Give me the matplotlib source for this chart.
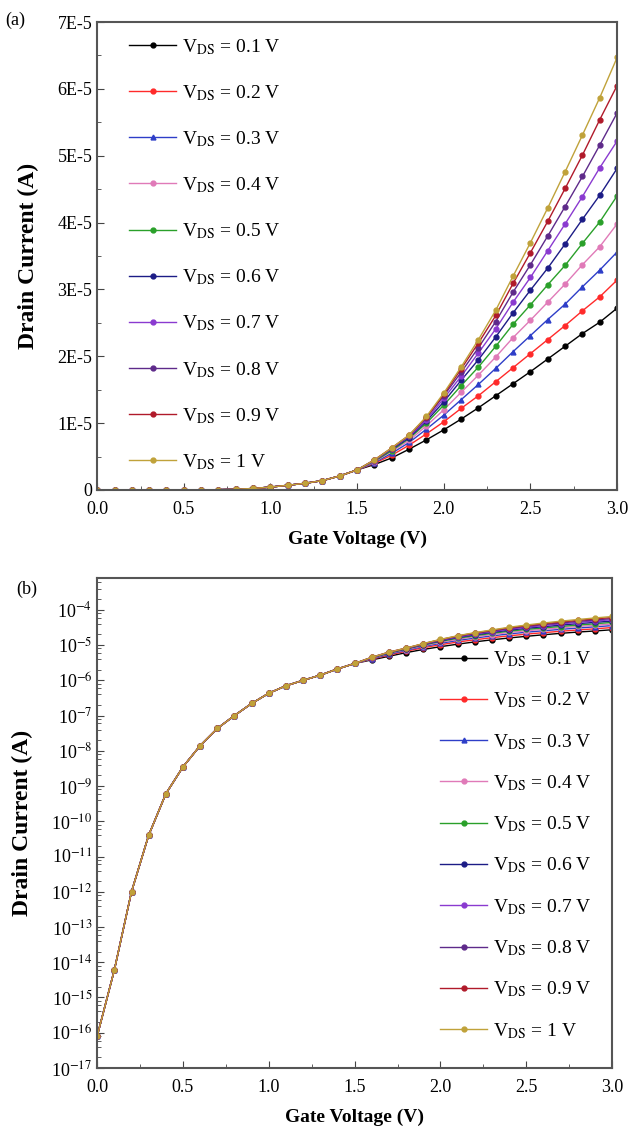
import numpy as np
import matplotlib
matplotlib.use("Agg")
import matplotlib.pyplot as plt
from matplotlib.ticker import FixedLocator, FixedFormatter, LogLocator, NullFormatter, MultipleLocator

plt.rcParams["font.family"] = ["Liberation Serif", "DejaVu Serif"]
plt.rcParams["mathtext.fontset"] = "stix"

# gate sweep (V)
vg = [0.0, 0.1, 0.2, 0.3, 0.4, 0.5, 0.6, 0.7, 0.8, 0.9, 1.0,
      1.1, 1.2, 1.3, 1.4, 1.5, 1.6, 1.7, 1.8, 1.9, 2.0,
      2.1, 2.2, 2.3, 2.4, 2.5, 2.6, 2.7, 2.8, 2.9, 3.0]

# subthreshold part, same for every drain bias (A), Vg = 0.0 ... 1.5
low_current = [8e-17, 6e-15, 1e-12, 4e-11, 6e-10, 3.5e-9, 1.4e-8, 4.3e-8,
               1e-7, 2.2e-7, 4.3e-7, 7e-7, 1.0e-6, 1.4e-6, 2.1e-6, 3.0e-6]

# above threshold, Vg = 1.6 ... 3.0, in units of 1e-5 A
vds_labels = ["0.1", "0.2", "0.3", "0.4", "0.5", "0.6", "0.7", "0.8", "0.9", "1"]
i_01 = [0.38, 0.48, 0.61, 0.75, 0.90, 1.06, 1.23, 1.41, 1.59, 1.77, 1.96, 2.15, 2.34, 2.51, 2.72]
i_02 = [0.40, 0.52, 0.67, 0.84, 1.02, 1.22, 1.41, 1.62, 1.83, 2.04, 2.25, 2.46, 2.68, 2.89, 3.14]
i_03 = [0.41, 0.55, 0.71, 0.91, 1.12, 1.35, 1.58, 1.82, 2.07, 2.31, 2.55, 2.78, 3.04, 3.29, 3.56]
i_04 = [0.42, 0.58, 0.74, 0.96, 1.20, 1.46, 1.72, 1.99, 2.28, 2.54, 2.81, 3.08, 3.37, 3.64, 3.98]
i_05 = [0.43, 0.59, 0.77, 1.00, 1.27, 1.56, 1.84, 2.15, 2.48, 2.77, 3.07, 3.36, 3.69, 4.01, 4.40]
i_06 = [0.44, 0.61, 0.78, 1.03, 1.32, 1.64, 1.95, 2.29, 2.65, 2.99, 3.32, 3.68, 4.05, 4.41, 4.81]
i_07 = [0.44, 0.62, 0.80, 1.05, 1.37, 1.70, 2.05, 2.41, 2.81, 3.18, 3.58, 3.98, 4.39, 4.82, 5.22]
i_08 = [0.45, 0.62, 0.81, 1.08, 1.41, 1.76, 2.13, 2.52, 2.96, 3.37, 3.80, 4.24, 4.69, 5.16, 5.64]
i_09 = [0.45, 0.63, 0.82, 1.09, 1.43, 1.81, 2.20, 2.61, 3.09, 3.55, 4.02, 4.51, 5.01, 5.54, 6.05]
i_10 = [0.45, 0.63, 0.82, 1.10, 1.45, 1.84, 2.25, 2.69, 3.20, 3.70, 4.22, 4.76, 5.31, 5.87, 6.47]
high_parts = [i_01, i_02, i_03, i_04, i_05, i_06, i_07, i_08, i_09, i_10]

colors = ["#000000", "#ff2a2a", "#2e3ec8", "#e07ab8", "#2aa02a",
          "#1c1c86", "#8a3ad0", "#5e2a8a", "#b01a2a", "#c0a23a"]
markers = ["o", "o", "^", "o", "o", "o", "o", "o", "o", "o"]

curves = [low_current + [v * 1e-5 for v in hp] for hp in high_parts]

fig = plt.figure(figsize=(6.31, 11.36), dpi=100)
ax1 = fig.add_axes([0.154, 0.5687, 0.824, 0.4119])
ax2 = fig.add_axes([0.154, 0.0599, 0.816, 0.4313])

for ax in (ax1, ax2):
    for i, cur in enumerate(curves):
        ax.plot(vg, cur, color=colors[i], marker=markers[i], markersize=3.5,
                linewidth=1.0, label=r"V$_{\rm DS}$ = " + vds_labels[i] + " V")
    ax.set_xlim(0, 3.0)
    ax.xaxis.set_major_locator(MultipleLocator(0.5))
    ax.xaxis.set_major_formatter(matplotlib.ticker.FormatStrFormatter("%.1f"))
    ax.xaxis.set_minor_locator(MultipleLocator(0.25))
    ax.tick_params(which="both", direction="in", labelsize=13, color="#444444")
    ax.tick_params(which="major", length=5)
    ax.tick_params(which="minor", length=3)
    ax.tick_params(axis="x", which="major", pad=8)
    for sp in ax.spines.values():
        sp.set_color("#555555")
        sp.set_linewidth(1.5)
    ax.set_xlabel("Gate Voltage (V)", fontsize=14, fontweight="bold", labelpad=9)
    ax.set_ylabel("Drain Current (A)", fontsize=17, fontweight="bold", labelpad=13)

# linear panel
ax1.set_ylim(0, 7e-5)
yt = [0, 1e-5, 2e-5, 3e-5, 4e-5, 5e-5, 6e-5, 7e-5]
ax1.yaxis.set_major_locator(FixedLocator(yt))
ax1.yaxis.set_major_formatter(FixedFormatter(["0", "1E-5", "2E-5", "3E-5", "4E-5", "5E-5", "6E-5", "7E-5"]))
ax1.yaxis.set_minor_locator(MultipleLocator(0.5e-5))
ax1.legend(loc="upper left", bbox_to_anchor=(0.047, 0.985), frameon=False, fontsize=14,
           numpoints=1, handlelength=2.4, handletextpad=0.3, labelspacing=1.36,
           borderaxespad=0)
fig.text(0.008, 0.982, "(a)", fontsize=13, va="center", ha="left")

# log panel
ax2.set_yscale("log")
ax2.set_ylim(1e-17, 8e-4)
ax2.yaxis.set_major_locator(FixedLocator([10.0 ** k for k in range(-17, -3)]))
ax2.yaxis.set_major_formatter(matplotlib.ticker.FuncFormatter(
    lambda v, p: r"10$^{%d}$" % int(round(np.log10(v)))))
ax2.yaxis.set_minor_locator(LogLocator(base=10, subs=(2, 4, 6, 8), numticks=40))
ax2.yaxis.set_minor_formatter(NullFormatter())
ax2.legend(loc="lower right", bbox_to_anchor=(0.975, 0.04), frameon=False, fontsize=14,
           numpoints=1, handlelength=2.4, handletextpad=0.3, labelspacing=1.11,
           borderaxespad=0)
fig.text(0.025, 0.481, "(b)", fontsize=13, va="center", ha="left")

fig.savefig("out.png", dpi=100)
